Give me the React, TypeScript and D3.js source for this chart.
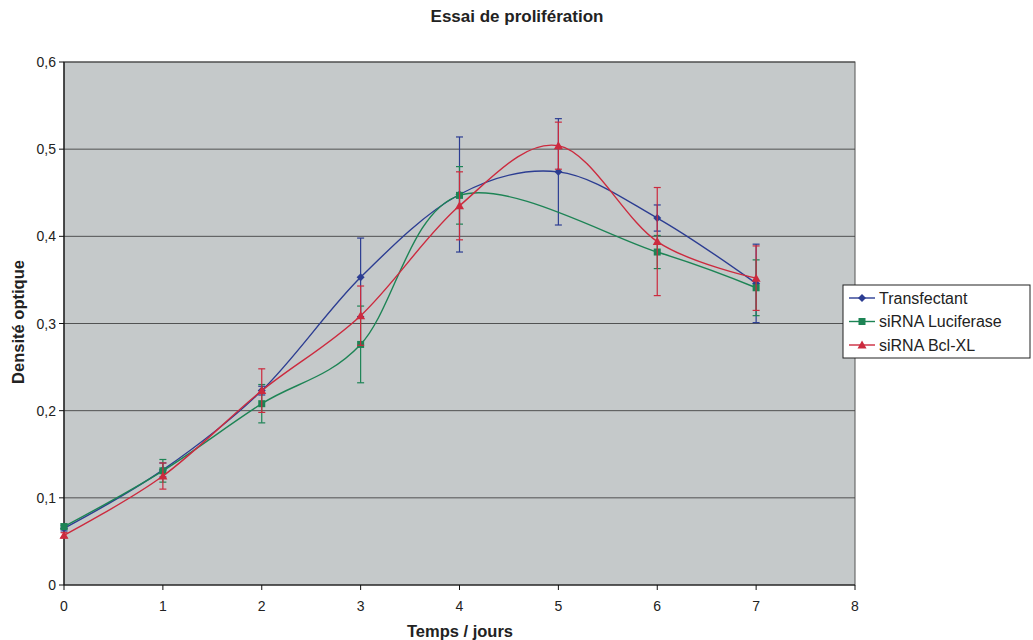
import React from "react";
import * as d3 from "d3";

// Days of measurement
const days = [0, 1, 2, 3, 4, 5, 6, 7];

// Optical density per condition (null = no measurement)
const transfectant = [0.065, 0.132, 0.223, 0.353, 0.448, 0.474, 0.421, 0.346];
const siLuciferase = [0.067, 0.131, 0.208, 0.276, 0.447, null, 0.382, 0.341];
const siBclXL = [0.057, 0.125, 0.223, 0.309, 0.435, 0.504, 0.394, 0.352];

// Error bar half-widths
const transfectantErr = [0.003, 0.008, 0.005, 0.045, 0.066, 0.061, 0.015, 0.045];
const siLuciferaseErr = [0.003, 0.013, 0.022, 0.044, 0.033, null, 0.019, 0.032];
const siBclXLErr = [0.003, 0.015, 0.025, 0.034, 0.039, 0.027, 0.062, 0.037];

const xTicks = [0, 1, 2, 3, 4, 5, 6, 7, 8];
const yTicks = [0, 0.1, 0.2, 0.3, 0.4, 0.5, 0.6];

const seriesNames = ["Transfectant", "siRNA Luciferase", "siRNA Bcl-XL"];
const seriesColors = ["#2c3d92", "#1d8455", "#cc2a3e"];
const seriesShapes = ["diamond", "square", "triangle"];

const W = 1033;
const H = 640;
const plot = { left: 64, right: 855, top: 62, bottom: 585 };
const font = "Liberation Sans, Arial, sans-serif";

function Marker({ shape, x, y, color }: { shape: string; x: number; y: number; color: string }) {
  if (shape === "diamond") {
    return <path d={`M${x},${y - 4}L${x + 4},${y}L${x},${y + 4}L${x - 4},${y}Z`} fill={color} />;
  }
  if (shape === "square") {
    return <rect x={x - 3.5} y={y - 3.5} width={7} height={7} fill={color} />;
  }
  return <path d={`M${x},${y - 4.5}L${x + 4.5},${y + 3.5}L${x - 4.5},${y + 3.5}Z`} fill={color} />;
}

export default function App() {
  const x = d3.scaleLinear().domain([0, 8]).range([plot.left, plot.right]);
  const y = d3.scaleLinear().domain([0, 0.6]).range([plot.bottom, plot.top]);
  const fmt = (v: number) => (v === 0 ? "0" : d3.format(".1f")(v).replace(".", ","));

  const values = [transfectant, siLuciferase, siBclXL];
  const errors = [transfectantErr, siLuciferaseErr, siBclXLErr];

  const line = d3
    .line<[number, number]>()
    .x((d) => x(d[0]))
    .y((d) => y(d[1]))
    .curve(d3.curveCardinal.tension(0));

  const legendX = 843;
  const legendY = 285;

  return (
    <svg width={W} height={H} style={{ position: "absolute", left: 0, top: 0, background: "#fff" }}>
      <rect x={0} y={0} width={W} height={H} fill="#fff" />
      <text x={517} y={22} textAnchor="middle" fontFamily={font} fontWeight="bold" fontSize={17} fill="#222">
        Essai de prolifération
      </text>

      {/* plot area */}
      <rect
        x={plot.left}
        y={plot.top}
        width={plot.right - plot.left}
        height={plot.bottom - plot.top}
        fill="#c5c9ca"
        stroke="#555"
        strokeWidth={1}
      />
      {yTicks.slice(1).map((t) => (
        <line key={t} x1={plot.left} x2={plot.right} y1={y(t)} y2={y(t)} stroke="#444" strokeWidth={0.9} />
      ))}

      {/* axes */}
      <line x1={plot.left} x2={plot.left} y1={plot.top} y2={plot.bottom} stroke="#111" strokeWidth={1.2} />
      <line x1={plot.left} x2={plot.right} y1={plot.bottom} y2={plot.bottom} stroke="#111" strokeWidth={1.2} />
      {yTicks.map((t) => (
        <g key={t}>
          <line x1={plot.left - 5} x2={plot.left} y1={y(t)} y2={y(t)} stroke="#111" />
          <text x={plot.left - 8} y={y(t) + 5} textAnchor="end" fontFamily={font} fontSize={14} fill="#222">
            {fmt(t)}
          </text>
        </g>
      ))}
      {xTicks.map((t) => (
        <g key={t}>
          <line x1={x(t)} x2={x(t)} y1={plot.bottom} y2={plot.bottom + 5} stroke="#111" />
          <text x={x(t)} y={plot.bottom + 26} textAnchor="middle" fontFamily={font} fontSize={14} fill="#222">
            {t}
          </text>
        </g>
      ))}
      <text x={460} y={637} textAnchor="middle" fontFamily={font} fontWeight="bold" fontSize={16.5} fill="#222">
        Temps / jours
      </text>
      <text
        transform={`translate(24,${322}) rotate(-90)`}
        textAnchor="middle"
        fontFamily={font}
        fontWeight="bold"
        fontSize={16.5}
        fill="#222"
      >
        Densité optique
      </text>

      {/* series */}
      {values.map((vals, si) => {
        const color = seriesColors[si];
        const pts: [number, number][] = [];
        days.forEach((d, i) => {
          const v = vals[i];
          if (v !== null) pts.push([d, v]);
        });
        return (
          <g key={si}>
            {days.map((d, i) => {
              const v = vals[i];
              const e = errors[si][i];
              if (v === null || e === null) return null;
              const cx = x(d);
              return (
                <g key={i} stroke={color} strokeWidth={1.2}>
                  <line x1={cx} x2={cx} y1={y(v - e)} y2={y(v + e)} />
                  <line x1={cx - 3.5} x2={cx + 3.5} y1={y(v - e)} y2={y(v - e)} />
                  <line x1={cx - 3.5} x2={cx + 3.5} y1={y(v + e)} y2={y(v + e)} />
                </g>
              );
            })}
            <path d={line(pts) || ""} fill="none" stroke={color} strokeWidth={1.4} />
            {pts.map(([d, v], i) => (
              <Marker key={i} shape={seriesShapes[si]} x={x(d)} y={y(v)} color={color} />
            ))}
          </g>
        );
      })}

      {/* legend */}
      <rect x={legendX} y={legendY} width={187} height={73} fill="#fff" stroke="#222" strokeWidth={1} />
      {seriesNames.map((name, i) => {
        const ly = legendY + 13 + i * 23.5;
        return (
          <g key={name}>
            <line x1={legendX + 6} x2={legendX + 32} y1={ly} y2={ly} stroke={seriesColors[i]} strokeWidth={1.4} />
            <Marker shape={seriesShapes[i]} x={legendX + 19} y={ly} color={seriesColors[i]} />
            <text x={legendX + 36} y={ly + 5.5} fontFamily={font} fontSize={16} fill="#222">
              {name}
            </text>
          </g>
        );
      })}
    </svg>
  );
}
